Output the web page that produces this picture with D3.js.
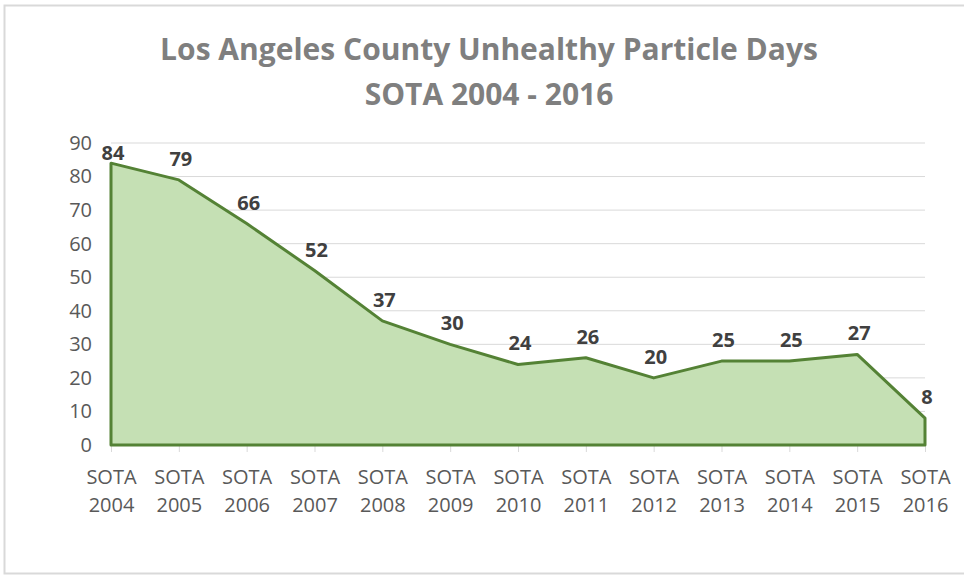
<!DOCTYPE html>
<html>
<head>
<meta charset="utf-8">
<script src="https://cdn.jsdelivr.net/npm/d3@7"></script>
<style>
  body { margin: 0; background: #fff; }
  svg { display: block; }
</style>
</head>
<body>
<div id="chart"></div>
<script>
const categories = ["2004", "2005", "2006", "2007", "2008", "2009", "2010",
  "2011", "2012", "2013", "2014", "2015", "2016"];
const days = [84, 79, 66, 52, 37, 30, 24, 26, 20, 25, 25, 27, 8];
const yTicks = [0, 10, 20, 30, 40, 50, 60, 70, 80, 90];

const W = 964, H = 577;
const margin = { top: 143, right: 39, bottom: 132, left: 111 };
const width = W - margin.left - margin.right,
  height = H - margin.top - margin.bottom;

const svg = d3.select("#chart").append("svg")
  .attr("width", W)
  .attr("height", H);

// outer border of the chart
svg.append("rect")
  .attr("x", 4.5).attr("y", 5.5)
  .attr("width", W + 10).attr("height", H - 9)
  .attr("fill", "none")
  .attr("stroke", "#d9d9d9")
  .attr("stroke-width", 2);

const font = "'Open Sans', 'Noto Sans', sans-serif";

svg.append("text")
  .attr("x", 489).attr("y", 60)
  .attr("text-anchor", "middle")
  .attr("font-family", font)
  .attr("font-weight", "bold")
  .attr("font-size", 30)
  .attr("fill", "#7f7f7f")
  .text("Los Angeles County Unhealthy Particle Days");

svg.append("text")
  .attr("x", 489).attr("y", 105)
  .attr("text-anchor", "middle")
  .attr("font-family", font)
  .attr("font-weight", "bold")
  .attr("font-size", 30)
  .attr("fill", "#7f7f7f")
  .text("SOTA 2004 - 2016");

const g = svg.append("g")
  .attr("transform", `translate(${margin.left}, ${margin.top})`);

const x = d3.scalePoint().domain(categories).range([0, width]);
const y = d3.scaleLinear().domain([0, 90]).range([height, 0]);

// gridlines
g.append("g")
  .selectAll("line")
  .data(yTicks.filter((d) => d > 0))
  .join("line")
  .attr("x1", 0).attr("x2", width)
  .attr("y1", (d) => y(d)).attr("y2", (d) => y(d))
  .attr("stroke", "#d9d9d9")
  .attr("stroke-width", 1);

// y axis
const yAxis = g.append("g")
  .call(d3.axisLeft(y).tickValues(yTicks).tickSize(0).tickPadding(19));
yAxis.select(".domain").remove();
yAxis.selectAll("text")
  .attr("font-family", font)
  .attr("font-size", 20)
  .attr("fill", "#595959");

// x axis
const xAxis = g.append("g")
  .attr("transform", `translate(0, ${height})`)
  .call(d3.axisBottom(x).tickSize(7).tickPadding(0).tickFormat(() => ""));
xAxis.select(".domain").attr("stroke", "#d9d9d9");
xAxis.selectAll(".tick line").attr("stroke", "#d9d9d9");
xAxis.selectAll(".tick text")
  .attr("dy", null)
  .each(function (d) {
    const t = d3.select(this);
    t.attr("y", 39)
      .attr("font-family", font)
      .attr("font-size", 20)
      .attr("fill", "#595959");
    t.append("tspan").attr("x", 0).attr("dy", 0).text("SOTA");
    t.append("tspan").attr("x", 0).attr("dy", 28).text(d);
  });

const data = categories.map((c, i) => ({ c, v: days[i] }));

const area = d3.area()
  .x((d) => x(d.c))
  .y0(y(0))
  .y1((d) => y(d.v));

g.append("path")
  .datum(data)
  .attr("d", area)
  .attr("fill", "#c5e0b4")
  .attr("stroke", "#548235")
  .attr("stroke-width", 3)
  .attr("stroke-linejoin", "round");

// data labels, pushed down where they would leave the plot
g.append("g")
  .selectAll("text")
  .data(data)
  .join("text")
  .attr("x", (d) => x(d.c) + 2)
  .attr("y", (d) => Math.max(y(d.v) - 14, 17))
  .attr("text-anchor", "middle")
  .attr("font-family", font)
  .attr("font-weight", "bold")
  .attr("font-size", 20)
  .attr("fill", "#404040")
  .text((d) => d.v);
</script>
</body>
</html>
